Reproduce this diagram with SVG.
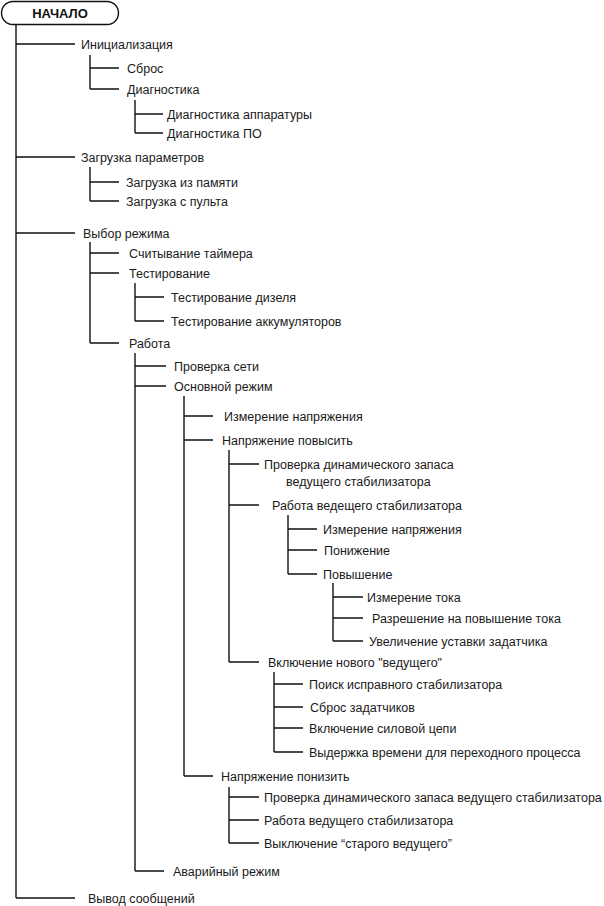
<svg xmlns="http://www.w3.org/2000/svg" width="604" height="906" viewBox="0 0 604 906">
<style>
.c{fill:none;stroke:#111;stroke-width:1.4}
.t{font-family:"Liberation Sans",Arial,sans-serif;font-size:12.5px;fill:#1a1a1a}
.b{font-family:"Liberation Sans",Arial,sans-serif;font-size:13px;font-weight:bold;fill:#111}
</style>
<rect width="604" height="906" fill="#fff"/>
<g id="connectors">
<path class="c" d="M16 25V898M16 44H75M16 157H75M16 233H75M16 898H75"/>
<path class="c" d="M90 55V89M90 68H119M90 89H119"/>
<path class="c" d="M135 100V133M135 114H163M135 133H163"/>
<path class="c" d="M90 167V201M90 182H119M90 201H119"/>
<path class="c" d="M90 242V343M90 253H119M90 273H119M90 343H119"/>
<path class="c" d="M135 283V321M135 297H164M135 321H164"/>
<path class="c" d="M135 353V871M135 366H166M135 386H166M135 871H164"/>
<path class="c" d="M184 396V776M184 416H213M184 440H213M184 776H213"/>
<path class="c" d="M229 450V662M229 464H259M229 505H259M229 662H259"/>
<path class="c" d="M288 515V574M288 529H317M288 550H317M288 574H317"/>
<path class="c" d="M333 583V641M333 597H363M333 618H363M333 641H363"/>
<path class="c" d="M274 672V752M274 684H303M274 707H303M274 728H303M274 752H303"/>
<path class="c" d="M229 787V843M229 797H259M229 820H259M229 843H259"/>
</g>
<g id="start"><rect x="1.5" y="1.5" width="117" height="23" rx="11.5" fill="#fff" stroke="#111" stroke-width="1.4"/><text class="b" x="60" y="18" text-anchor="middle">НАЧАЛО</text></g>
<g id="n1"><text class="t" x="81" y="49">Инициализация</text></g>
<g id="n2"><text class="t" x="127" y="73">Сброс</text></g>
<g id="n3"><text class="t" x="127" y="94">Диагностика</text></g>
<g id="n4"><text class="t" x="167" y="119">Диагностика аппаратуры</text></g>
<g id="n5"><text class="t" x="167" y="138">Диагностика ПО</text></g>
<g id="n6"><text class="t" x="81" y="162">Загрузка параметров</text></g>
<g id="n7"><text class="t" x="126" y="187">Загрузка из памяти</text></g>
<g id="n8"><text class="t" x="126" y="206">Загрузка с пульта</text></g>
<g id="n9"><text class="t" x="83" y="238">Выбор режима</text></g>
<g id="n10"><text class="t" x="129" y="258">Считывание таймера</text></g>
<g id="n11"><text class="t" x="129" y="278">Тестирование</text></g>
<g id="n12"><text class="t" x="171" y="302">Тестирование дизеля</text></g>
<g id="n13"><text class="t" x="171" y="326">Тестирование аккумуляторов</text></g>
<g id="n14"><text class="t" x="129" y="348">Работа</text></g>
<g id="n15"><text class="t" x="174" y="371">Проверка сети</text></g>
<g id="n16"><text class="t" x="174" y="391">Основной режим</text></g>
<g id="n17"><text class="t" x="224" y="421">Измерение напряжения</text></g>
<g id="n18"><text class="t" x="222" y="445">Напряжение повысить</text></g>
<g id="n19"><text class="t" x="264" y="469">Проверка динамического запаса</text><text class="t" x="286" y="486">ведущего стабилизатора</text></g>
<g id="n20"><text class="t" x="272" y="510">Работа ведещего стабилизатора</text></g>
<g id="n21"><text class="t" x="323" y="534">Измерение напряжения</text></g>
<g id="n22"><text class="t" x="324" y="555">Понижение</text></g>
<g id="n23"><text class="t" x="323" y="579">Повышение</text></g>
<g id="n24"><text class="t" x="367" y="602">Измерение тока</text></g>
<g id="n25"><text class="t" x="372" y="623">Разрешение на повышение тока</text></g>
<g id="n26"><text class="t" x="369" y="646">Увеличение уставки задатчика</text></g>
<g id="n27"><text class="t" x="268" y="667">Включение нового "ведущего"</text></g>
<g id="n28"><text class="t" x="309" y="689">Поиск исправного стабилизатора</text></g>
<g id="n29"><text class="t" x="310" y="712">Сброс задатчиков</text></g>
<g id="n30"><text class="t" x="309" y="733">Включение силовой цепи</text></g>
<g id="n31"><text class="t" x="309" y="757">Выдержка времени для переходного процесса</text></g>
<g id="n32"><text class="t" x="221" y="781">Напряжение понизить</text></g>
<g id="n33"><text class="t" x="264" y="802">Проверка динамического запаса ведущего стабилизатора</text></g>
<g id="n34"><text class="t" x="264" y="825">Работа ведущего стабилизатора</text></g>
<g id="n35"><text class="t" x="264" y="848">Выключение “старого ведущего”</text></g>
<g id="n36"><text class="t" x="173" y="876">Аварийный режим</text></g>
<g id="n37"><text class="t" x="88" y="903">Вывод сообщений</text></g>
</svg>
